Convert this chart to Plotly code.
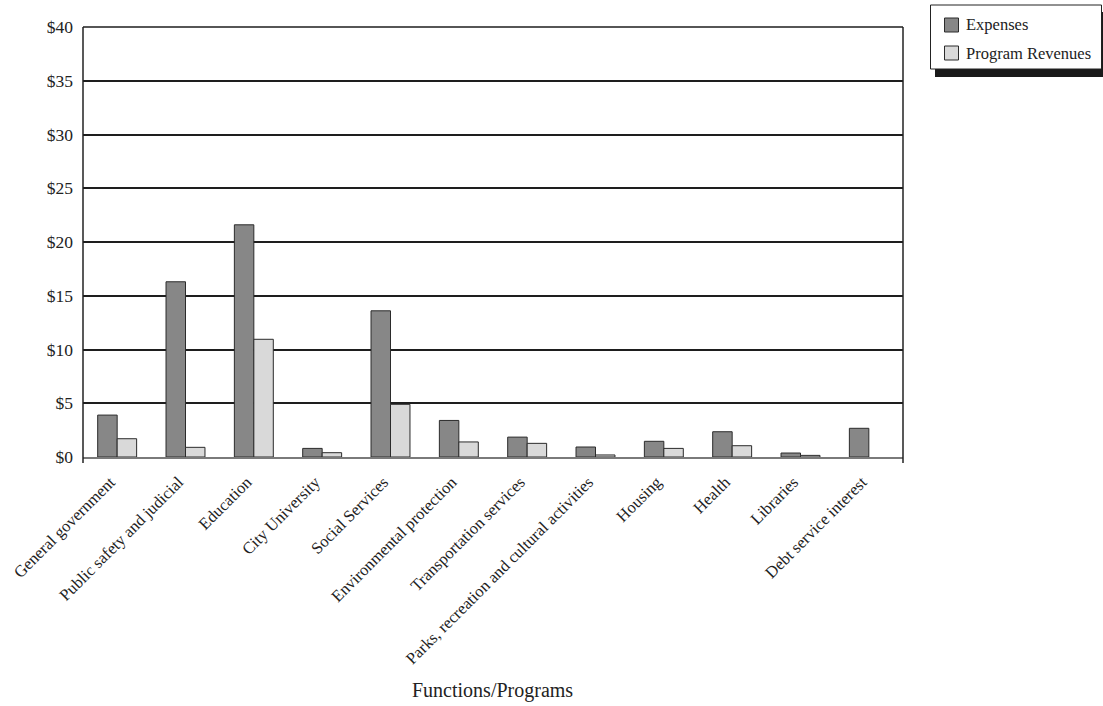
import plotly.graph_objects as go

categories = [
    "General government",
    "Public safety and judicial",
    "Education",
    "City University",
    "Social Services",
    "Environmental protection",
    "Transportation services",
    "Parks, recreation and cultural activities",
    "Housing",
    "Health",
    "Libraries",
    "Debt service interest",
]
expenses = [3.9, 16.3, 21.6, 0.8, 13.6, 3.4, 1.85, 0.93, 1.46, 2.35, 0.37, 2.67]
program_revenues = [1.7, 0.9, 10.95, 0.4, 4.9, 1.4, 1.27, 0.19, 0.8, 1.05, 0.15, None]
y_ticks = [0, 5, 10, 15, 20, 25, 30, 35, 40]
y_tick_labels = ["$" + str(v) for v in y_ticks]
series_names = ["Expenses", "Program Revenues"]
series_colors = ["#878787", "#d9d9d9"]

FONT = "Liberation Serif, Times New Roman, serif"
W, H = 1103, 706
L, R, T, B = 83, 200, 27, 249
PW, PH = W - L - R, H - T - B


def px(x):
    """pixel column -> paper x"""
    return (x - L) / PW


def py(y):
    """pixel row -> paper y"""
    return (H - B - y) / PH


fig = go.Figure()
for name, vals, col in zip(series_names, [expenses, program_revenues], series_colors):
    fig.add_trace(go.Bar(
        name=name, x=categories, y=vals,
        marker=dict(color=col, line=dict(color="#2b2b2b", width=1)),
    ))

shapes = [
    # top gridline at $40
    dict(type="line", xref="paper", yref="paper", x0=0, x1=1, y0=1, y1=1,
         line=dict(color="#1e1e1e", width=1.6)),
    # left and right frame lines, running slightly below the baseline
    dict(type="line", xref="paper", yref="paper", x0=0, x1=0, y0=py(463), y1=1,
         line=dict(color="#222", width=1.5)),
    dict(type="line", xref="paper", yref="paper", x0=1, x1=1, y0=py(463), y1=1,
         line=dict(color="#222", width=1.5)),
    # legend: drop shadow, box, swatches
    dict(type="rect", xref="paper", yref="paper", x0=px(935), x1=px(1110), y0=py(77), y1=py(12),
         fillcolor="#1a1a1a", line=dict(width=0)),
    dict(type="rect", xref="paper", yref="paper", x0=px(930.5), x1=px(1101.5), y0=py(69), y1=py(5),
         fillcolor="white", line=dict(color="#222", width=1)),
]
annotations = [dict(
    text="Functions/Programs", xref="paper", yref="paper",
    x=px(492), y=py(690), xanchor="center", yanchor="middle",
    showarrow=False, font=dict(family=FONT, size=20, color="#222"),
)]
for i, (name, col) in enumerate(zip(series_names, series_colors)):
    cy = 25 + 28 * i
    shapes.append(dict(type="rect", xref="paper", yref="paper",
                       x0=px(944.5), x1=px(958.5), y0=py(cy + 7), y1=py(cy - 7),
                       fillcolor=col, line=dict(color="#2b2b2b", width=1)))
    annotations.append(dict(text=name, xref="paper", yref="paper",
                            x=px(964), y=py(cy), xanchor="left", yanchor="middle",
                            showarrow=False, font=dict(family=FONT, size=16.5, color="#222")))

fig.update_layout(
    width=W, height=H,
    margin=dict(l=L, r=R, t=T, b=B, autoexpand=False),
    paper_bgcolor="white", plot_bgcolor="white",
    barmode="group", bargap=0.43, bargroupgap=0,
    font=dict(family=FONT, size=16, color="#222"),
    showlegend=False,
    xaxis=dict(
        type="category", tickangle=-45, showgrid=False, automargin=False,
        showline=True, linecolor="#7a7a7a", linewidth=2,
        ticks="", tickfont=dict(family=FONT, size=16.5, color="#222"),
        ticklabelshift=-7, ticklabelstandoff=7,
        range=[-0.5, 11.5],
    ),
    yaxis=dict(
        range=[0, 40], tickvals=y_ticks, ticktext=y_tick_labels, automargin=False,
        showgrid=True, gridcolor="#1e1e1e", gridwidth=1.6,
        zeroline=False, showline=False, ticks="", ticklabelstandoff=9,
        tickfont=dict(family=FONT, size=17.5, color="#222"),
    ),
    annotations=annotations,
    shapes=shapes,
)

fig.write_html("out.html")
